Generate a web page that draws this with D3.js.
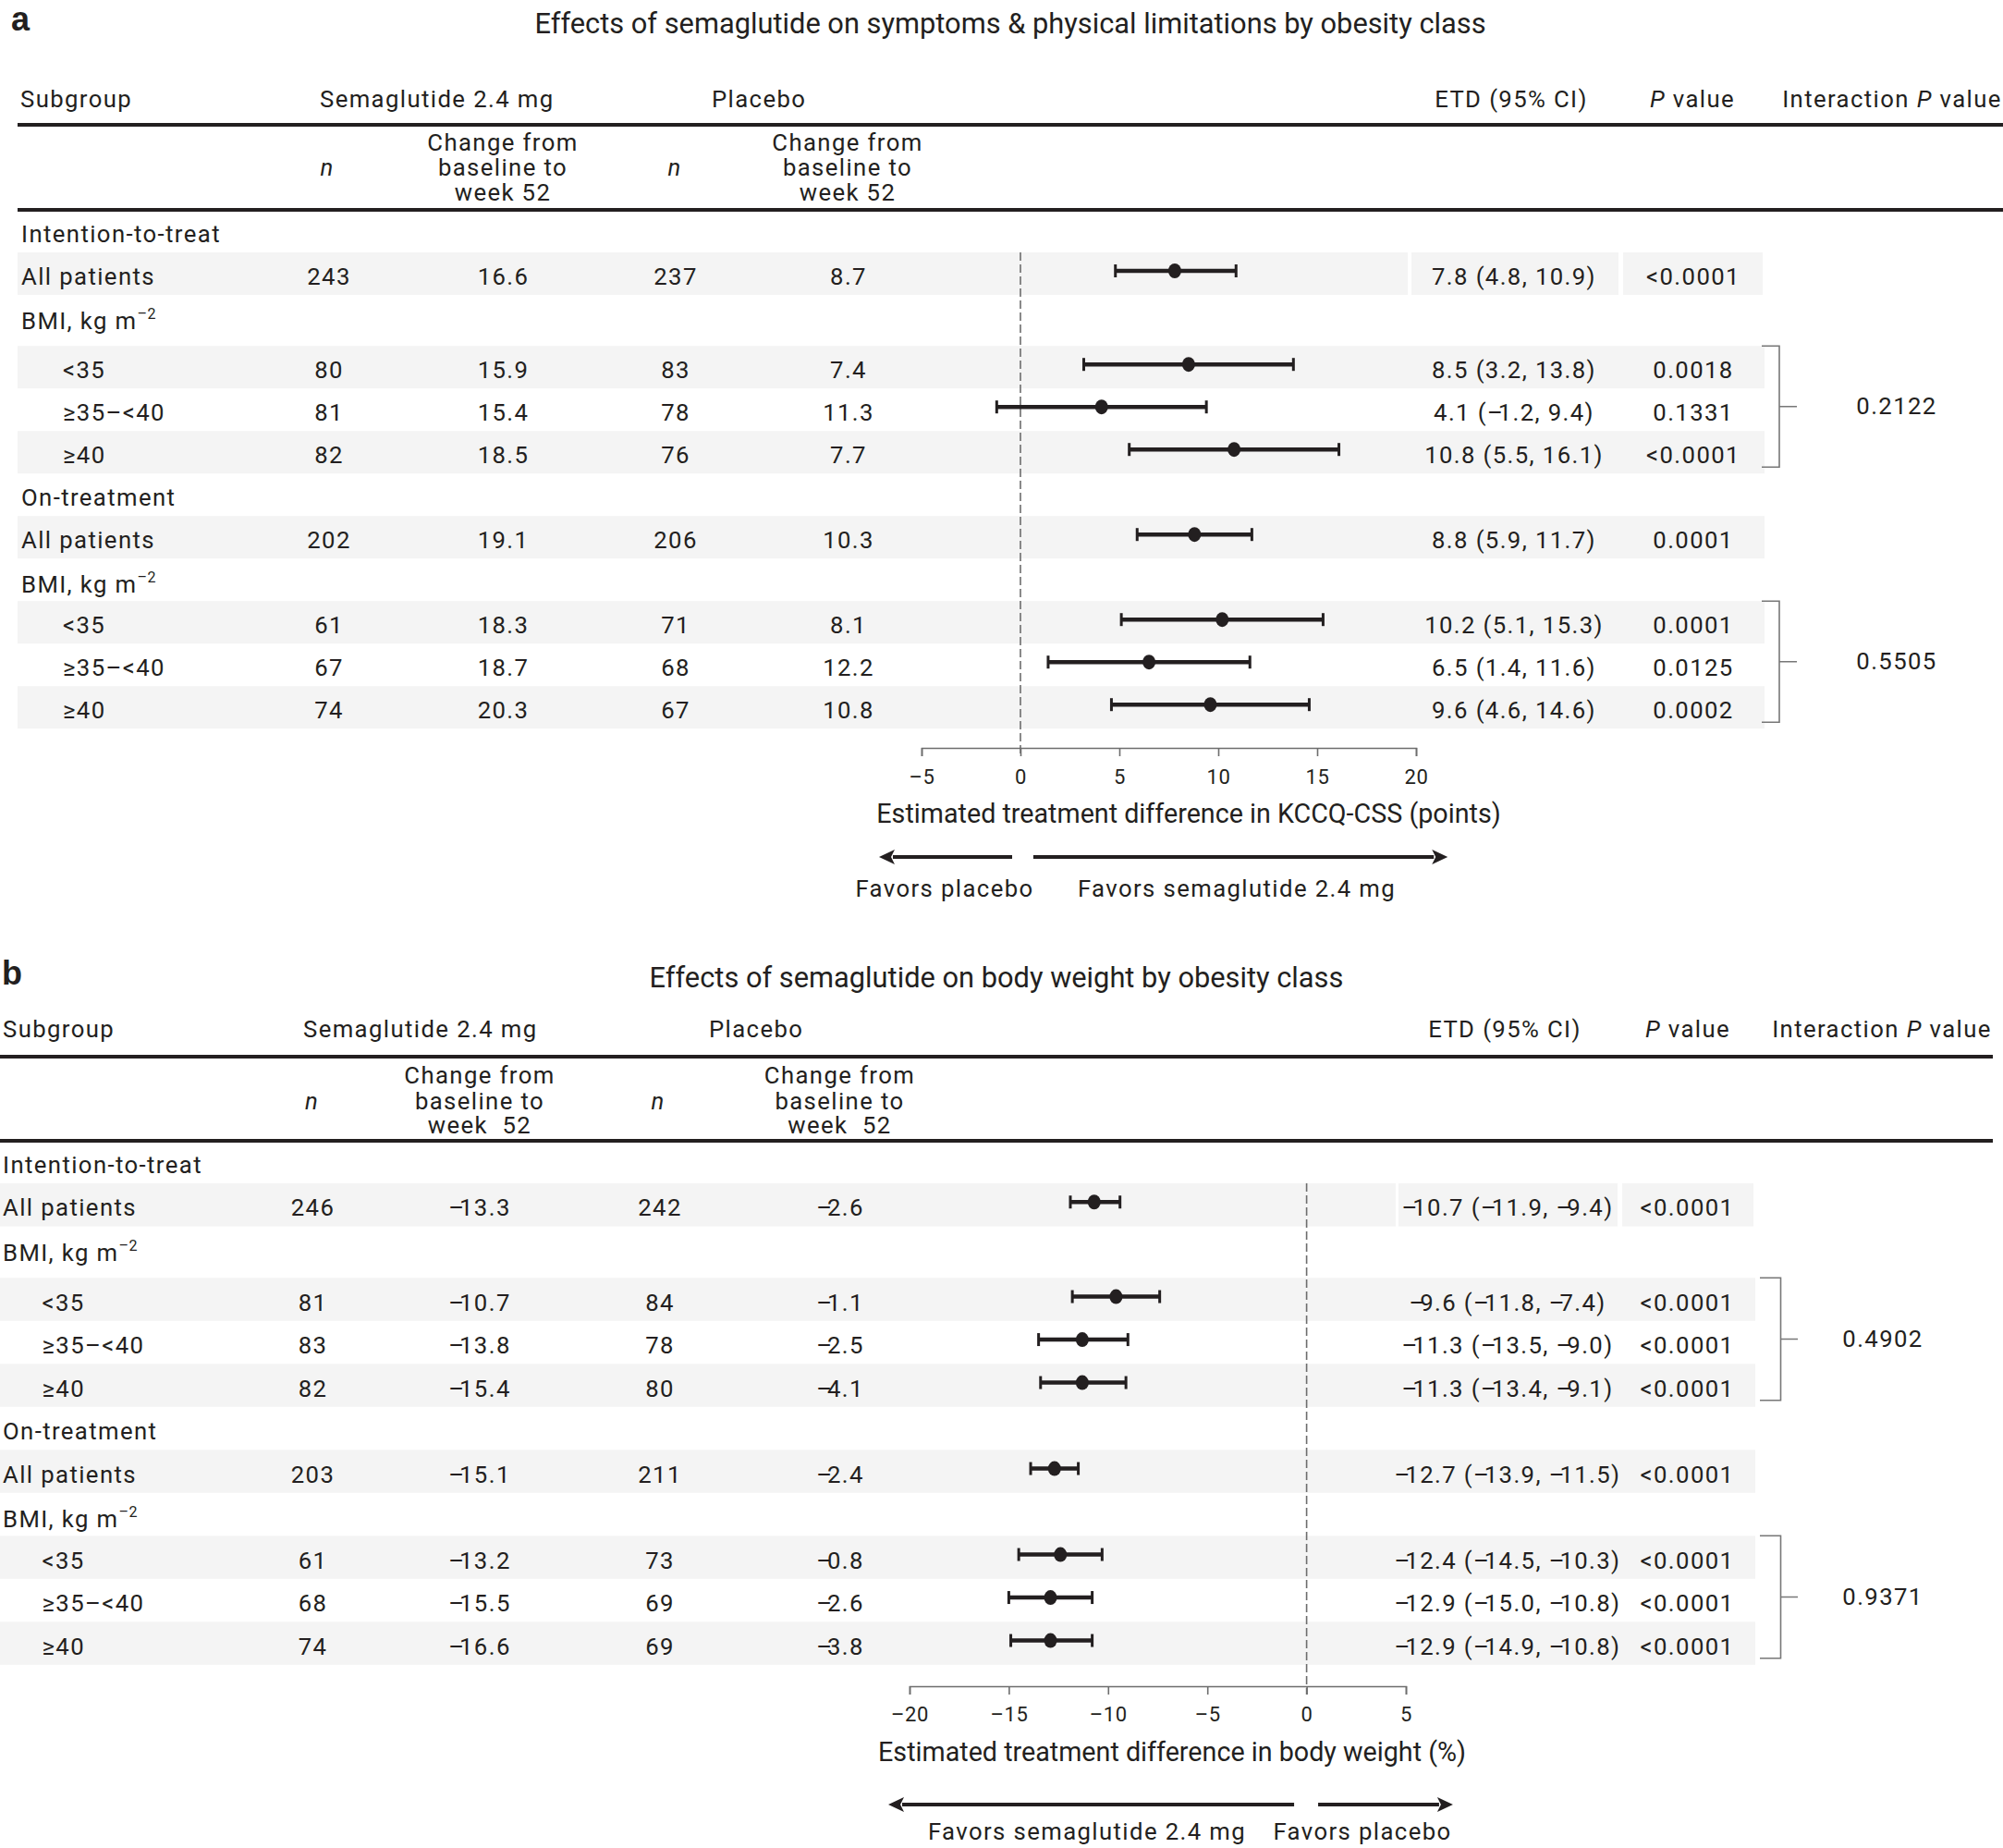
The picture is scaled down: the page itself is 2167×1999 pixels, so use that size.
<!DOCTYPE html>
<html><head><meta charset="utf-8">
<script src="https://cdn.jsdelivr.net/npm/d3@7"></script>
<style>
html,body{margin:0;padding:0;background:#fff;}
svg text{font-family:Roboto,"Noto Sans",sans-serif;fill:#231f20;}
</style></head>
<body><svg id="chart" width="2167" height="1999" xmlns="http://www.w3.org/2000/svg"></svg>
<script>
// ---------------- DATA ----------------
const sections = ["Intention-to-treat", "On-treatment"];
const subgroups = ["All patients", "<35", "≥35–<40", "≥40", "All patients", "<35", "≥35–<40", "≥40"];
const bmiLabel = "BMI, kg m";

// Panel a: KCCQ-CSS
const aTitle = "Effects of semaglutide on symptoms & physical limitations by obesity class";
const aSemaN = [243, 80, 81, 82, 202, 61, 67, 74];
const aSemaChange = [16.6, 15.9, 15.4, 18.5, 19.1, 18.3, 18.7, 20.3];
const aPlaN = [237, 83, 78, 76, 206, 71, 68, 67];
const aPlaChange = [8.7, 7.4, 11.3, 7.7, 10.3, 8.1, 12.2, 10.8];
const aEtd = [7.8, 8.5, 4.1, 10.8, 8.8, 10.2, 6.5, 9.6];
const aLow = [4.8, 3.2, -1.2, 5.5, 5.9, 5.1, 1.4, 4.6];
const aHigh = [10.9, 13.8, 9.4, 16.1, 11.7, 15.3, 11.6, 14.6];
const aP = ["<0.0001", "0.0018", "0.1331", "<0.0001", "0.0001", "0.0001", "0.0125", "0.0002"];
const aInteractionP = ["0.2122", "0.5505"];
const aDomain = [-5, 20];
const aTicks = [-5, 0, 5, 10, 15, 20];
const aAxisTitle = "Estimated treatment difference in KCCQ-CSS (points)";
const aFavors = ["Favors placebo", "Favors semaglutide 2.4 mg"];

// Panel b: body weight
const bTitle = "Effects of semaglutide on body weight by obesity class";
const bSemaN = [246, 81, 83, 82, 203, 61, 68, 74];
const bSemaChange = [-13.3, -10.7, -13.8, -15.4, -15.1, -13.2, -15.5, -16.6];
const bPlaN = [242, 84, 78, 80, 211, 73, 69, 69];
const bPlaChange = [-2.6, -1.1, -2.5, -4.1, -2.4, -0.8, -2.6, -3.8];
const bEtd = [-10.7, -9.6, -11.3, -11.3, -12.7, -12.4, -12.9, -12.9];
const bLow = [-11.9, -11.8, -13.5, -13.4, -13.9, -14.5, -15.0, -14.9];
const bHigh = [-9.4, -7.4, -9.0, -9.1, -11.5, -10.3, -10.8, -10.8];
const bP = ["<0.0001", "<0.0001", "<0.0001", "<0.0001", "<0.0001", "<0.0001", "<0.0001", "<0.0001"];
const bInteractionP = ["0.4902", "0.9371"];
const bDomain = [-20, 5];
const bTicks = [-20, -15, -10, -5, 0, 5];
const bAxisTitle = "Estimated treatment difference in body weight (%)";
const bFavors = ["Favors semaglutide 2.4 mg", "Favors placebo"];

// ---------------- STYLE / LAYOUT ----------------
const INK = "#231f20";
const BAND = "#f4f4f4";
const BODY = 25.7, LS = 1.4, TITLE = 30.8, AXT = 28.7, TICK = 22;

const svg = d3.select("#chart");
const fmt1 = v => d3.format(".1f")(v).replace("−", "–");
const fmt0 = v => d3.format("d")(v).replace("−", "–");

const panels = [
  {
    letter: "a", letterX: 12, letterY: 33,
    title: aTitle, titleX: 1093, titleY: 36,
    headerY: 116, rule1: 135, rule2: 227, ruleL: 19, ruleR: 2167, subY: [163, 190, 217],
    week: "week 52",
    hdr: {subgroup: 22, sema: 346, placebo: 770, etd: 1635, p: 1831, inter: 2047},
    subN: [354, 730], subCh: [544, 917],
    col: {label: 23, indent: 68, semaN: 356, semaCh: 544.5, plaN: 731, plaCh: 918, etd: 1638, p: 1832, inter: 2052},
    bandL: 19, bandR: 1909, ittCells: [[19, 1523], [1527, 1751], [1756, 1907]],
    bandTop: 273, rowH: 46,
    domain: aDomain, range: [997, 1532], ticks: aTicks,
    axisY: 809, tickLen: 9, tickLabelY: 848, axisTitle: aAxisTitle, axisTitleX: 1286, axisTitleY: 890,
    arrowY: 927, arrows: [[-0.42, -7.15], [0.65, 21.6]],
    favors: aFavors, favorsX: [1022, 1338], favorsY: 970,
    bracket: [1906, 1925, 1944],
    semaN: aSemaN, semaCh: aSemaChange, plaN: aPlaN, plaCh: aPlaChange,
    etd: aEtd, low: aLow, high: aHigh, p: aP, inter: aInteractionP
  },
  {
    letter: "b", letterX: 2, letterY: 1065,
    title: bTitle, titleX: 1078, titleY: 1068,
    headerY: 1122, rule1: 1143, rule2: 1234, ruleL: 0, ruleR: 2156, subY: [1172, 1200, 1226],
    week: "week  52",
    hdr: {subgroup: 3, sema: 328, placebo: 767, etd: 1628, p: 1826, inter: 2036},
    subN: [337.5, 712], subCh: [519, 908.5],
    col: {label: 3, indent: 45.5, semaN: 338.5, semaCh: 519, plaN: 714, plaCh: 909, etd: 1631, p: 1825.5, inter: 2037},
    bandL: 0, bandR: 1899, ittCells: [[0, 1510], [1513, 1750], [1755, 1897]],
    bandTop: 1280, rowH: 46.5,
    domain: bDomain, range: [984, 1521], ticks: bTicks,
    axisY: 1824, tickLen: 9, tickLabelY: 1862, axisTitle: bAxisTitle, axisTitleX: 1268, axisTitleY: 1905,
    arrowY: 1952, arrows: [[-0.63, -21.07], [0.58, 7.37]],
    favors: bFavors, favorsX: [1176, 1474], favorsY: 1990,
    bracket: [1904, 1926.5, 1945],
    semaN: bSemaN, semaCh: bSemaChange, plaN: bPlaN, plaCh: bPlaChange,
    etd: bEtd, low: bLow, high: bHigh, p: bP, inter: bInteractionP
  }
];

function txt(g, s, x, y, opt = {}) {
  const t = g.append("text").attr("x", x).attr("y", y)
    .attr("font-size", opt.size || BODY)
    .attr("letter-spacing", opt.ls !== undefined ? opt.ls : LS)
    .attr("text-anchor", opt.anchor || "start");
  if (opt.weight) t.attr("font-weight", opt.weight);
  if (opt.family) t.style("font-family", opt.family);
  if (opt.pre) t.style("white-space", "pre");
  if (s !== null) t.text(s);
  return t;
}

// numeric text: en dashes drawn with tight following spacing (as in the original typesetting)
function numTxt(g, s, x, y, opt = {}) {
  const t = txt(g, null, x, y, opt);
  s.split(/(–)/).filter(p => p.length).forEach(p => {
    const ts = t.append("tspan").text(p);
    if (p === "–") ts.attr("letter-spacing", LS - 6.5);
  });
  return t;
}

function drawPanel(P) {
  const g = svg.append("g");
  const x = d3.scaleLinear().domain(P.domain).range(P.range);

  // panel letter & title
  txt(g, P.letter, P.letterX, P.letterY, {size: 36, weight: 700, ls: 0, family: "'Liberation Sans', Arial, sans-serif"});
  txt(g, P.title, P.titleX, P.titleY, {size: TITLE, ls: 0, anchor: "middle"});

  // headers
  txt(g, "Subgroup", P.hdr.subgroup, P.headerY);
  txt(g, "Semaglutide 2.4 mg", P.hdr.sema, P.headerY);
  txt(g, "Placebo", P.hdr.placebo, P.headerY);
  txt(g, "ETD (95% CI)", P.hdr.etd, P.headerY, {anchor: "middle"});
  const pv = txt(g, null, P.hdr.p, P.headerY, {anchor: "middle"});
  pv.append("tspan").attr("font-style", "italic").text("P");
  pv.append("tspan").text(" value");
  const iv = txt(g, null, P.hdr.inter, P.headerY, {anchor: "middle"});
  iv.append("tspan").text("Interaction ");
  iv.append("tspan").attr("font-style", "italic").text("P");
  iv.append("tspan").text(" value");

  // rules
  [P.rule1, P.rule2].forEach(ry => g.append("line")
    .attr("x1", P.ruleL).attr("x2", P.ruleR).attr("y1", ry).attr("y2", ry)
    .attr("stroke", INK).attr("stroke-width", 4));

  // sub-headers
  P.subN.forEach(cx => txt(g, "n", cx, P.subY[1], {anchor: "middle"}).attr("font-style", "italic"));
  P.subCh.forEach(cx => {
    ["Change from", "baseline to", P.week].forEach((s, k) =>
      txt(g, s, cx, P.subY[k], {anchor: "middle", pre: true}));
  });

  // row layout
  const h = P.rowH;
  const seq = [["section", 0, 1], ["data", 0, 1], ["bmi", null, 1.2], ["data", 1, 1], ["data", 2, 1], ["data", 3, 1],
               ["section", 1, 1], ["data", 4, 1], ["bmi", null, 1], ["data", 5, 1], ["data", 6, 1], ["data", 7, 1]];
  let yy = P.bandTop - h;
  const rows = seq.map(([kind, i, k]) => { const r = {kind, i, top: yy, height: k * h}; yy += k * h; return r; });
  const dataRows = rows.filter(r => r.kind === "data");
  const yOf = d3.scaleOrdinal().domain(dataRows.map(r => r.i)).range(dataRows.map(r => r.top + r.height / 2));

  // bands
  dataRows.filter(r => r.i % 4 !== 2).forEach(r => {
    const cells = r.i === 0 ? P.ittCells : [[P.bandL, P.bandR]];
    cells.forEach(([c0, c1]) => g.append("rect").attr("x", c0).attr("width", c1 - c0)
      .attr("y", r.top).attr("height", r.height).attr("fill", BAND));
  });

  // labels rows
  rows.forEach(r => {
    if (r.kind === "section") txt(g, sections[r.i], P.col.label, r.top + 35);
    if (r.kind === "bmi") {
      const t = txt(g, null, P.col.label, r.top + 37);
      t.append("tspan").text(bmiLabel);
      t.append("tspan").attr("dy", -11).attr("font-size", 16).attr("letter-spacing", 0.5).text("–2");
    }
  });

  // data text
  dataRows.forEach(r => {
    const i = r.i, by = yOf(i) + 12;
    txt(g, subgroups[i], i % 4 === 0 ? P.col.label : P.col.indent, by);
    txt(g, fmt0(P.semaN[i]), P.col.semaN, by, {anchor: "middle"});
    numTxt(g, fmt1(P.semaCh[i]), P.col.semaCh, by, {anchor: "middle"});
    txt(g, fmt0(P.plaN[i]), P.col.plaN, by, {anchor: "middle"});
    numTxt(g, fmt1(P.plaCh[i]), P.col.plaCh, by, {anchor: "middle"});
    numTxt(g, `${fmt1(P.etd[i])} (${fmt1(P.low[i])}, ${fmt1(P.high[i])})`, P.col.etd, by, {anchor: "middle"});
    txt(g, P.p[i], P.col.p, by, {anchor: "middle"});
  });

  // reference dashed line at 0
  g.append("line").attr("x1", x(0)).attr("x2", x(0))
    .attr("y1", P.bandTop).attr("y2", P.axisY + P.tickLen)
    .attr("stroke", "#6d6d6d").attr("stroke-width", 1.6).attr("stroke-dasharray", "9,4");

  // axis
  const axis = d3.axisBottom(x).tickValues(P.ticks).tickSize(P.tickLen).tickSizeOuter(P.tickLen).tickFormat(fmt0);
  const ag = g.append("g").attr("transform", `translate(0,${P.axisY})`).call(axis);
  ag.select(".domain").attr("stroke", "#6d6d6d").attr("stroke-width", 1.6);
  ag.selectAll(".tick line").attr("stroke", "#6d6d6d").attr("stroke-width", 1.6);
  ag.selectAll(".tick text").attr("y", P.tickLabelY - P.axisY).attr("dy", null)
    .attr("font-size", TICK).attr("font-family", null).attr("fill", INK).attr("letter-spacing", 0.6);
  txt(g, P.axisTitle, P.axisTitleX, P.axisTitleY, {size: AXT, ls: 0, anchor: "middle"});

  // error bars
  const eb = g.append("g");
  dataRows.forEach(r => {
    const i = r.i, cy = yOf(i) - 3;
    eb.append("line").attr("x1", x(P.low[i])).attr("x2", x(P.high[i])).attr("y1", cy).attr("y2", cy)
      .attr("stroke", INK).attr("stroke-width", 4.5);
    [P.low[i], P.high[i]].forEach(v => eb.append("line").attr("x1", x(v)).attr("x2", x(v))
      .attr("y1", cy - 7).attr("y2", cy + 7).attr("stroke", INK).attr("stroke-width", 3));
    eb.append("ellipse").attr("cx", x(P.etd[i])).attr("cy", cy).attr("rx", 7).attr("ry", 8).attr("fill", INK);
  });

  // brackets + interaction P
  [[1, 3], [5, 7]].forEach(([a, b], k) => {
    const ra = dataRows.find(r => r.i === a), rb = dataRows.find(r => r.i === b);
    const top = ra.top, bot = rb.top + rb.height - 7, mid = (top + bot) / 2;
    const [b0, b1, b2] = P.bracket;
    g.append("path").attr("d", `M${b0},${top}H${b1}V${bot}H${b0}M${b1},${mid}H${b2}`)
      .attr("fill", "none").attr("stroke", "#777").attr("stroke-width", 1.6);
    txt(g, P.inter[k], P.col.inter, mid + 8, {anchor: "middle"});
  });

  // direction arrows
  P.arrows.forEach(([from, to]) => {
    const x0 = x(from), x1 = x(to), dir = Math.sign(x1 - x0), L = 17, H = 8;
    g.append("line").attr("x1", x0).attr("x2", x1 - dir * (L - 2)).attr("y1", P.arrowY).attr("y2", P.arrowY)
      .attr("stroke", INK).attr("stroke-width", 4);
    g.append("path").attr("d", `M${x1},${P.arrowY}L${x1 - dir * L},${P.arrowY - H}L${x1 - dir * (L - 4)},${P.arrowY}L${x1 - dir * L},${P.arrowY + H}Z`)
      .attr("fill", INK);
  });
  P.favors.forEach((s, k) => txt(g, s, P.favorsX[k], P.favorsY, {anchor: "middle"}));
}

panels.forEach(drawPanel);
</script>
</body></html>
